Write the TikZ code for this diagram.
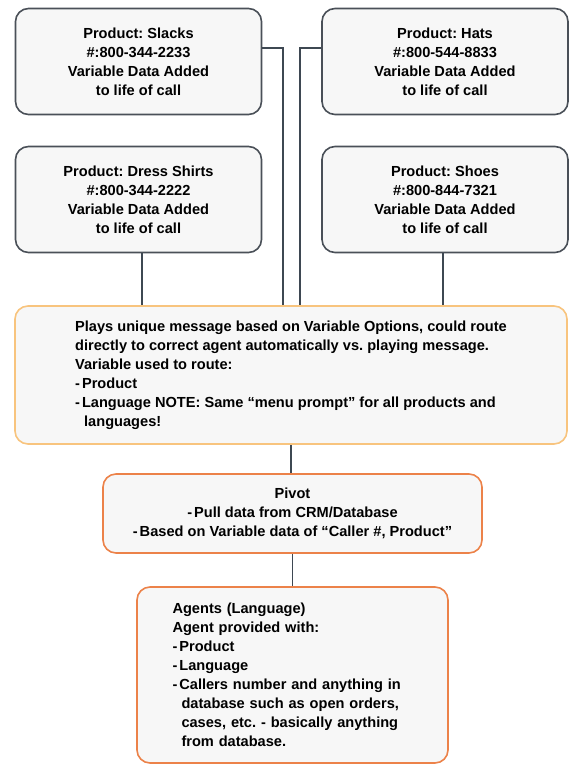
\documentclass[tikz,border=0pt]{standalone}
\usepackage{fontspec}
\setmainfont{Liberation Sans}
\usetikzlibrary{calc}
\frenchspacing
\definecolor{edgegrey}{HTML}{4A5058}
\definecolor{boxfill}{HTML}{F7F7F7}
\definecolor{goldline}{HTML}{F8C47E}
\definecolor{orangeline}{HTML}{EC8249}
\definecolor{wirecol}{HTML}{3E4852}
\begin{document}
\begin{tikzpicture}[x=1pt,y=1pt,
  box/.style={draw=edgegrey, line width=1.6pt, fill=boxfill, rounded corners=13pt,
    inner sep=0pt, font=\fontsize{14.6}{19}\selectfont\bfseries\frenchspacing},
  prod/.style={box, align=center, minimum width=246pt, minimum height=106pt},
  wire/.style={draw=wirecol, line width=1.4pt}]
\useasboundingbox (0,0) rectangle (569,-766);
\node[prod] (slacks) at (138.5,-61.5) {Product: Slacks\\\#:800-344-2233\\Variable Data Added\\to life of call};
\node[prod] (hats) at (445,-61.5) {Product: Hats\\\#:800-544-8833\\Variable Data Added\\to life of call};
\node[prod] (dress) at (138.5,-199.5) {Product: Dress Shirts\\\#:800-344-2222\\Variable Data Added\\to life of call};
\node[prod] (shoes) at (445,-199.5) {Product: Shoes\\\#:800-844-7321\\Variable Data Added\\to life of call};
\node[box, draw=goldline, align=left, minimum width=552pt, minimum height=138pt] (route) at (291,-375)
  {Plays unique message based on Variable Options, could route\\
   directly to correct agent automatically vs. playing message.\\
   Variable used to route:\\
   -\kern2pt Product\\
   -\kern2pt Language NOTE: Same “menu prompt” for all products and\\
   \hspace*{9pt}languages!};
\node[box, draw=orangeline, align=center, minimum width=379pt, minimum height=79pt] (pivot) at (292.5,-513.5)
  {Pivot\\-\kern2pt Pull data from CRM/Database\\-\kern2pt Based on Variable data of “Caller \#, Product”};
\node[box, draw=orangeline, align=left, text width=240pt, minimum width=311pt, minimum height=176pt] (agents) at (292.5,-675)
  {Agents (Language)\\
   Agent provided with:\\
   -\kern2pt Product\\
   -\kern2pt Language\\
   -\kern2pt Callers number and anything in\\
   \hspace*{9pt}database such as open orders,\\
   \hspace*{9pt}cases, etc. - basically anything\\
   \hspace*{9pt}from database.};
\draw[wire] ([yshift=13.5pt]slacks.east) -| ([xshift=-8pt]route.north);
\draw[wire] ([yshift=13.5pt]hats.west) -| ([xshift=9pt]route.north);
\draw[wire] ([xshift=3.5pt]dress.south) -- ([xshift=3.5pt]dress.south |- route.north);
\draw[wire] ([xshift=-2pt]shoes.south) -- ([xshift=-2pt]shoes.south |- route.north);
\draw[wire] (route.south) -- (route.south |- pivot.north);
\draw[wire] (pivot.south) -- (agents.north);
\end{tikzpicture}
\end{document}
